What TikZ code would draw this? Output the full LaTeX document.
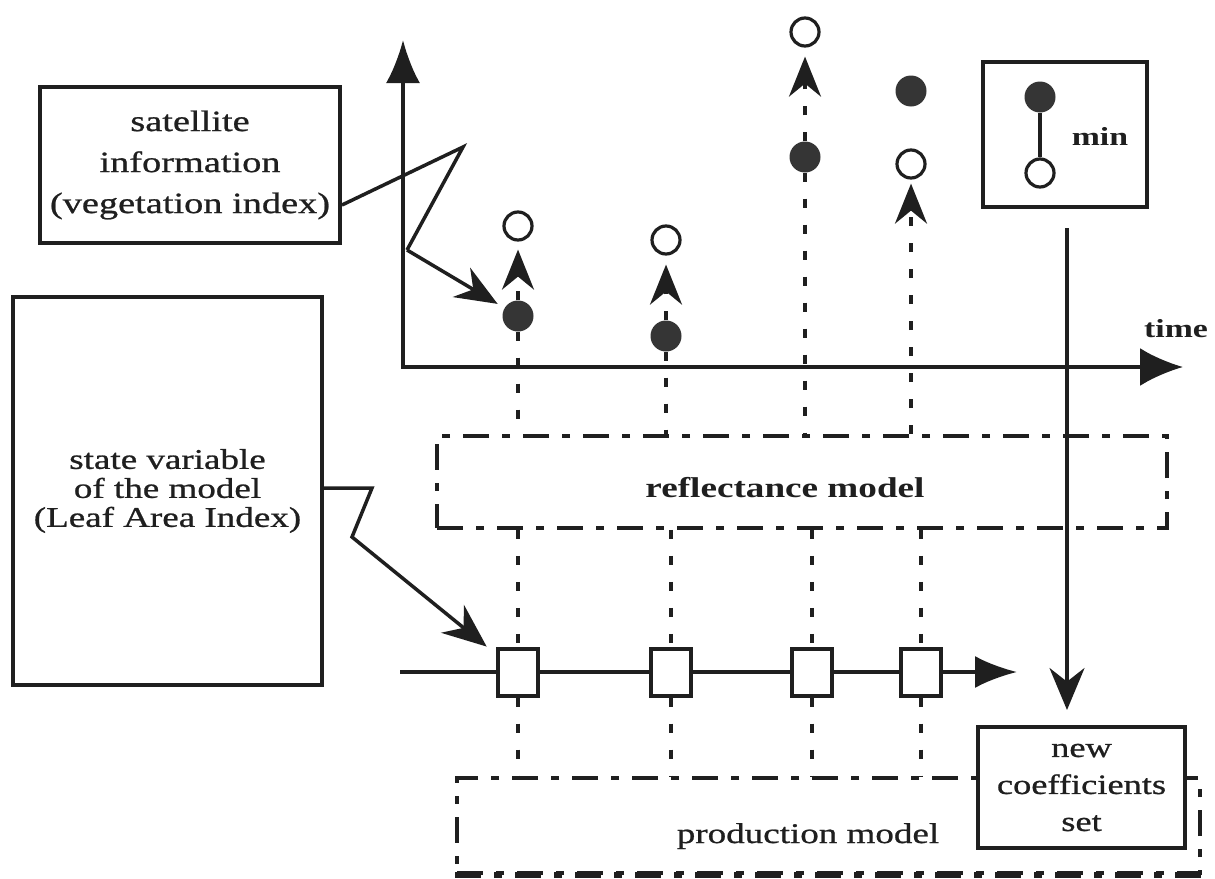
\documentclass[tikz,border=0pt]{standalone}
\usepackage{fontspec}
\setmainfont{Liberation Serif}[FakeStretch=1.3,UprightFeatures={FakeBold=0.8}]
\usetikzlibrary{arrows.meta,calc}
\definecolor{ink}{gray}{0.12}
\newcommand\myfs[2]{\fontsize{#1}{#2}\selectfont}
\begin{document}
\begin{tikzpicture}[x=1pt,y=-1pt,color=ink,
  txtbox/.style={draw=ink,line width=4pt,fill=white,inner sep=0pt,align=center},
  mbox/.style={draw=ink,line width=3.8pt,dash pattern=on 26pt off 13pt on 8pt off 13pt,inner sep=0pt},
  vdash/.style={line width=3.8pt,dash pattern=on 9pt off 17pt},
  fdot/.style={circle,fill=ink!90,minimum size=31pt,inner sep=0pt},
  odot/.style={circle,draw=ink,line width=3.2pt,fill=white,minimum size=28pt,inner sep=0pt},
  sqbox/.style={draw=ink,line width=4pt,fill=white,minimum width=40pt,minimum height=47pt,inner sep=0pt},
  upa/.style={-{Stealth[length=40pt,width=32pt]}},
  conn/.style={line width=3.5pt}]
\useasboundingbox (0,0) rectangle (1215,878);

% text boxes
\node[txtbox,minimum width=300pt,minimum height=156pt,font=\myfs{29.5}{41}] (sat) at (190,165) {satellite\\information\\(vegetation index)};
\node[txtbox,minimum width=309pt,minimum height=388pt,font=\myfs{28.5}{29}] (state) at (167.5,491) {state variable\\of the model\\(Leaf Area Index)};

% model boxes
\node[mbox,minimum width=730pt,minimum height=92pt] (refl) at (802,482) {};
\node[anchor=base,font=\bfseries\myfs{28.6}{30}] (rlabel) at (785,497) {reflectance model};
\node[mbox,minimum width=743pt,minimum height=95pt] (prod) at (828.5,825.5) {};
\draw[line width=6pt,dash pattern=on 26pt off 13pt on 8pt off 13pt] (prod.south west) -- (prod.south east);
\node[anchor=base,font=\myfs{28.5}{30}] (plabel) at (808,843) {production model};

% axes
\coordinate (O) at (403,367);
\coordinate (Ytip) at (403,40);
\coordinate (Xtip) at (1183,367);
\draw[conn,{Latex[length=43pt,width=34pt]}-{Latex[length=43pt,width=38pt]}] (Ytip) -- (O) -- (Xtip);
\node[anchor=base,font=\bfseries\myfs{26}{28}] (tlabel) at (1176,337) {time};

% timeline
\coordinate (Tstart) at (400,672);
\coordinate (Tend) at (1017,672);
\draw[conn,-{Latex[length=42pt,width=32pt]}] (Tstart) -- (Tend);

% legend
\node[txtbox,minimum width=164pt,minimum height=145pt] (legend) at (1065,134.5) {};
\node[fdot] (lf) at (1040,97) {};
\node[odot] (lo) at (1040,173) {};
\draw[conn] (lf) -- (lo);
\node[anchor=base,font=\bfseries\myfs{26}{28}] (mlabel) at (1100,145) {min};

% new coefficients set
\node[txtbox,minimum width=207pt,minimum height=121pt,font=\myfs{28}{37}] (ncs) at (1081.5,787.5) {new\\coefficients\\set};
\coordinate (va) at (1067,228);
\draw[conn,-{Stealth[length=42pt,width=35pt]},shorten >=15pt] (va) -- (va |- ncs.north);

% dots
\node[fdot] (f1) at (518,316) {};
\node[odot] (o1) at (518,226) {};
\node[fdot] (f2) at (666,336) {};
\node[odot] (o2) at (666,240) {};
\node[fdot] (f3) at (805,157) {};
\node[odot] (o3) at (805,32) {};
\node[fdot] (f4) at (911,91) {};
\node[odot] (o4) at (911,164) {};

% squares
\node[sqbox] (sq1) at (518,672) {};
\node[sqbox] (sq2) at (671,672) {};
\node[sqbox] (sq3) at (812,672) {};
\node[sqbox] (sq4) at (921,672) {};

% vertical dashed links (upper)
\draw[vdash] (f1.south) -- (f1 |- refl.north);
\draw[vdash] (f2.south) -- (f2 |- refl.north);
\draw[vdash] (f3.south) -- (f3 |- refl.north);
\draw[vdash,upa,shorten >=8pt] (f1.north) -- (o1.south);
\draw[vdash,upa,shorten >=9pt] (f2.north) -- (o2.south);
\draw[vdash,upa,shorten >=9pt] (f3.north) -- (o3.south);
\draw[vdash,upa,shorten >=4pt] (o4 |- refl.north) -- (o4.south);

% vertical dashed links (lower)
\foreach \s in {sq1,sq2,sq3,sq4}{
  \draw[vdash] (\s |- refl.south) -- (\s.north);
  \draw[vdash] (\s.south) -- (\s |- prod.north);
}

% satellite connector
\coordinate (speak) at (463,147);
\coordinate (saxis) at (407,250);
\draw[conn] ($(sat.south east)+(0,-40)$) -- (speak) -- (saxis);
\draw[conn,-{Stealth[length=42pt,width=34pt]},shorten >=8pt] (saxis) -- (f1);

% state variable connector
\coordinate (z1) at (372,488);
\coordinate (z2) at (352,537);
\draw[conn,-{Stealth[length=44pt,width=36pt]},shorten >=12pt] ($(state.east)+(0,-3)$) -- (z1) -- (z2) -- (sq1);
\end{tikzpicture}
\end{document}
